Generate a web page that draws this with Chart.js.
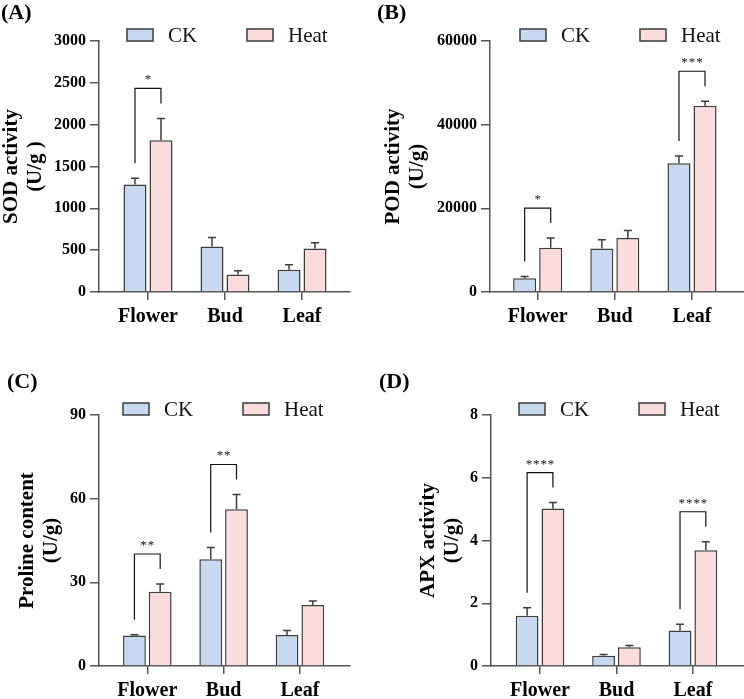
<!DOCTYPE html>
<html>
<head>
<meta charset="utf-8">
<script src="https://cdn.jsdelivr.net/npm/chart.js@4.4.1/dist/chart.umd.min.js"></script>
<style>
  html, body { margin: 0; padding: 0; background: #fff; }
  #wrap { position: relative; width: 744px; height: 699px; background: #fff; }
  canvas { position: absolute; }
</style>
</head>
<body>
<div id="wrap">
  <canvas id="cA" width="372" height="340" style="left:0;top:0"></canvas>
  <canvas id="cB" width="372" height="340" style="left:372px;top:0"></canvas>
  <canvas id="cC" width="372" height="359" style="left:0;top:340px"></canvas>
  <canvas id="cD" width="372" height="359" style="left:372px;top:340px"></canvas>
</div>
<script>
const categories = ["Flower", "Bud", "Leaf"];
const seriesNames = ["CK", "Heat"];

// (A) SOD
const sodCK = [1285, 545, 265];
const sodCKErr = [75, 105, 62];
const sodHeat = [1815, 210, 520];
const sodHeatErr = [260, 45, 68];
const sodTicks = [0, 500, 1000, 1500, 2000, 2500, 3000];
const sodSig = [{ cat: 0, text: "*" }];

// (B) POD
const podCK = [3300, 10400, 30800];
const podCKErr = [400, 2100, 1700];
const podHeat = [10600, 12900, 44500];
const podHeatErr = [2300, 1800, 1100];
const podTicks = [0, 20000, 40000, 60000];
const podSig = [{ cat: 0, text: "*" }, { cat: 2, text: "***" }];

// (C) Proline
const proCK = [10.9, 38.3, 11.1];
const proCKErr = [0.3, 4.2, 1.6];
const proHeat = [26.6, 56.2, 21.9];
const proHeatErr = [2.8, 5.3, 1.4];
const proTicks = [0, 30, 60, 90];
const proSig = [{ cat: 0, text: "**" }, { cat: 1, text: "**" }];

// (D) APX
const apxCK = [1.6, 0.33, 1.13];
const apxCKErr = [0.26, 0.04, 0.2];
const apxHeat = [5.02, 0.6, 3.69];
const apxHeatErr = [0.19, 0.05, 0.27];
const apxTicks = [0, 2, 4, 6, 8];
const apxSig = [{ cat: 0, text: "****" }, { cat: 2, text: "****" }];

const FONT = "'Liberation Serif', 'Times New Roman', serif";
const axisColor = "#555555";
const barBorder = "#3d3d3d";
const ckFill = "#c6d9f0";
const heatFill = "#fbdcdc";

Chart.defaults.font.family = FONT;
Chart.defaults.color = "#000";

function makePanel(id, p) {
  const panelPlugin = {
    id: "panel" + id,
    afterDatasetsDraw(chart) {
      const ctx = chart.ctx;
      const yScale = chart.scales.y;
      const errTop = (d, i) => {
        const ds = chart.data.datasets[d];
        return yScale.getPixelForValue(ds.data[i].y + ds.errors[i]);
      };
      ctx.save();
      // error bars (upper only)
      chart.data.datasets.forEach((ds, d) => {
        const meta = chart.getDatasetMeta(d);
        meta.data.forEach((bar, i) => {
          const yt = errTop(d, i);
          ctx.strokeStyle = barBorder;
          ctx.lineWidth = 1.5;
          ctx.beginPath();
          ctx.moveTo(bar.x, bar.y);
          ctx.lineTo(bar.x, yt);
          ctx.moveTo(bar.x - 4, yt);
          ctx.lineTo(bar.x + 4, yt);
          ctx.stroke();
        });
      });
      // significance brackets
      p.sig.forEach((s) => {
        const b0 = chart.getDatasetMeta(0).data[s.cat];
        const b1 = chart.getDatasetMeta(1).data[s.cat];
        const legL = errTop(0, s.cat) - 15;
        const legR = errTop(1, s.cat) - 15;
        const top = Math.min(legL, legR) - 15;
        ctx.strokeStyle = "#111";
        ctx.lineWidth = 1.2;
        ctx.beginPath();
        ctx.moveTo(b0.x, legL);
        ctx.lineTo(b0.x, top);
        ctx.lineTo(b1.x, top);
        ctx.lineTo(b1.x, legR);
        ctx.stroke();
        ctx.fillStyle = "#111";
        ctx.font = "13px " + FONT;
        ctx.textAlign = "center";
        ctx.textBaseline = "alphabetic";
        const cx = (b0.x + b1.x) / 2;
        const n = s.text.length;
        for (let k = 0; k < n; k++) {
          ctx.fillText("*", cx + (k - (n - 1) / 2) * 7.4, top - 5);
        }
      });
      // legend
      const lx = p.legendX, ly = chart.chartArea.top - 12;
      chart.data.datasets.forEach((ds, d) => {
        const bx = lx + d * 120;
        ctx.fillStyle = ds.backgroundColor;
        ctx.fillRect(bx, ly, 26, 12);
        ctx.strokeStyle = barBorder;
        ctx.lineWidth = 1.5;
        ctx.strokeRect(bx, ly, 26, 12);
        ctx.fillStyle = "#111";
        ctx.font = "21px " + FONT;
        ctx.textAlign = "left";
        ctx.textBaseline = "middle";
        ctx.fillText(ds.label, bx + 41, ly + 7);
      });
      // panel tag
      ctx.fillStyle = "#000";
      ctx.font = "bold 22px " + FONT;
      ctx.textAlign = "left";
      ctx.textBaseline = "middle";
      ctx.fillText(p.tag, p.tagX, p.tagY);
      ctx.restore();
    }
  };

  return new Chart(document.getElementById(id), {
    type: "bar",
    data: {
      datasets: [
        {
          label: seriesNames[0],
          data: p.ck.map((v, i) => ({ x: i, y: v })),
          errors: p.ckErr,
          backgroundColor: ckFill,
          borderColor: barBorder,
          borderWidth: 1.5
        },
        {
          label: seriesNames[1],
          data: p.heat.map((v, i) => ({ x: i, y: v })),
          errors: p.heatErr,
          backgroundColor: heatFill,
          borderColor: barBorder,
          borderWidth: 1.5
        }
      ]
    },
    options: {
      responsive: false,
      animation: false,
      devicePixelRatio: 1,
      categoryPercentage: 0.675,
      barPercentage: 0.885,
      layout: { padding: { top: p.top, right: p.right, left: 0, bottom: 0 } },
      plugins: { legend: { display: false }, tooltip: { enabled: false } },
      scales: {
        x: {
          type: "linear",
          min: p.xMin,
          max: p.xMax,
          offset: false,
          afterBuildTicks: (s) => { s.ticks = categories.map((c, i) => ({ value: i })); },
          afterFit: (s) => { s.height = p.xHeight; },
          ticks: {
            callback: (v) => categories[Math.round(v)],
            font: { size: 20, weight: "bold" },
            color: "#000",
            padding: 5,
            maxRotation: 0,
            autoSkip: false
          },
          grid: { drawOnChartArea: false, tickLength: 8, color: axisColor, lineWidth: 1.5, offset: false },
          border: { color: axisColor, width: 1.5 }
        },
        y: {
          min: 0,
          max: p.ticks[p.ticks.length - 1],
          afterBuildTicks: (s) => { s.ticks = p.ticks.map((v) => ({ value: v })); },
          afterFit: (s) => { s.width = p.yWidth; },
          ticks: {
            callback: (v) => String(v),
            font: { size: 16, weight: "bold" },
            color: "#000",
            padding: 4
          },
          grid: { drawOnChartArea: false, tickLength: 9, color: axisColor, lineWidth: 1.5 },
          border: { color: axisColor, width: 1.5 },
          title: {
            display: true,
            text: p.title,
            font: { size: 21, weight: "bold", lineHeight: 1.12 },
            color: "#000",
            padding: { top: p.titlePad, bottom: 0 }
          }
        }
      }
    },
    plugins: [panelPlugin]
  });
}

makePanel("cA", {
  tag: "(A)", tagX: 1, tagY: 13,
  ck: sodCK, ckErr: sodCKErr, heat: sodHeat, heatErr: sodHeatErr,
  ticks: sodTicks, sig: sodSig, title: ["SOD activity", "(U/g )"],
  top: 41, right: 22, yWidth: 99, xHeight: 48, xMin: -0.636, xMax: 2.623,
  titlePad: 0, legendX: 127
});
makePanel("cB", {
  tag: "(B)", tagX: 5, tagY: 13,
  ck: podCK, ckErr: podCKErr, heat: podHeat, heatErr: podHeatErr,
  ticks: podTicks, sig: podSig, title: ["POD activity", "(U/g)"],
  top: 41, right: 0, yWidth: 118, xHeight: 48, xMin: -0.618, xMax: 2.674,
  titlePad: 10, legendX: 148
});
makePanel("cC", {
  tag: "(C)", tagX: 7, tagY: 42,
  ck: proCK, ckErr: proCKErr, heat: proHeat, heatErr: proHeatErr,
  ticks: proTicks, sig: proSig, title: ["Proline content", "(U/g)"],
  top: 75, right: 22, yWidth: 99, xHeight: 33, xMin: -0.633, xMax: 2.656,
  titlePad: 16, legendX: 123
});
makePanel("cD", {
  tag: "(D)", tagX: 7, tagY: 42,
  ck: apxCK, ckErr: apxCKErr, heat: apxHeat, heatErr: apxHeatErr,
  ticks: apxTicks, sig: apxSig, title: ["APX activity", "(U/g)"],
  top: 75, right: 0, yWidth: 119, xHeight: 33, xMin: -0.641, xMax: 2.668,
  titlePad: 45, legendX: 147
});
</script>
</body>
</html>
